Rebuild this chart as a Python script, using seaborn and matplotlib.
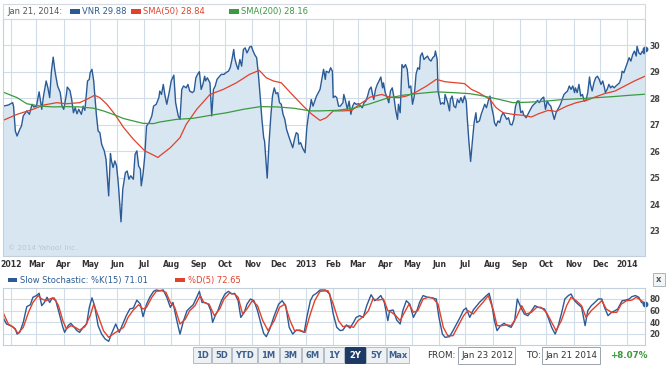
import matplotlib
matplotlib.use("Agg")
import matplotlib.pyplot as plt
from matplotlib.patches import Rectangle
import pandas as pd
import seaborn as sns

START = pd.Timestamp("2012-01-23")

# VNR daily close (days after Jan 23 2012)
vnr_days = [0, 6, 11, 12, 14, 16, 19, 21, 23, 27, 30, 33, 35, 38, 41, 44, 46, 49, 51, 53, 55, 57, 59, 62, 65, 67, 69,
            72, 73, 76, 78, 80, 82, 84, 86, 89, 91, 93, 96, 98, 99, 101, 103, 104, 106, 108, 110, 112, 115, 117, 120,
            122, 123, 125, 127, 129, 131, 134, 136, 139, 141, 143, 145, 148, 150, 152, 154, 156, 157, 159, 161, 163,
            166, 169, 171, 174, 177,
            178, 180, 182, 184, 186, 189, 191, 194, 196, 199, 201, 203, 205, 208, 210, 212, 215, 217, 219, 221, 223,
            225, 227, 229, 230, 232, 235, 237, 239, 241, 243, 246, 248, 251, 253, 256, 258, 260, 262, 263, 265, 267,
            269, 271, 273, 275, 277, 279, 280, 282, 284, 286, 288, 290, 292, 294, 296, 297, 300, 302, 304, 306, 308,
            310, 312, 314, 316, 318, 320, 322, 325, 327, 329, 331, 333, 335, 336, 338, 340, 343, 345, 347, 349, 350,
            352, 354, 356,
            360, 362, 364, 366, 367, 370, 372, 374, 375, 377, 379, 381, 383, 386, 387, 389, 391, 393, 395, 397, 399,
            401, 404, 406, 408, 410, 412, 414, 416, 418, 420, 421, 423, 425, 427, 429, 431, 432, 434, 437, 438, 440,
            442, 444, 446, 448, 449, 451, 453, 455, 457, 459, 461, 463, 465, 467, 469, 471, 473, 474, 476, 478, 480,
            482, 484, 486, 488, 490, 491, 493, 494, 497, 499, 501, 502, 505, 507, 508, 510, 512, 514, 516, 518, 520,
            522, 524, 526, 527, 529, 531, 533, 535, 537, 538,
            541, 543, 545, 547, 549, 551, 553, 555, 557, 558, 560, 562, 564, 566, 568, 570, 572, 574, 576, 578, 580,
            582, 584, 586, 588, 590, 591, 594, 596, 597, 599, 601, 603, 605, 607, 609, 611, 613, 614, 616, 618, 620,
            622, 624, 626, 628, 630, 632, 633, 635, 637, 639, 641, 643, 645, 647, 649, 650, 652, 654, 656, 658, 660,
            662, 664, 666, 667, 669, 671, 673, 675, 677, 679, 681, 683, 684, 686, 688, 690, 692, 694, 696, 698, 700,
            702, 703, 705, 707, 709, 711, 713, 715, 717, 719, 720, 722, 724, 726, 728, 729]
vnr_close = [27.71, 27.75, 27.84, 27.70, 26.77, 26.58, 26.83, 26.96, 27.34, 27.53, 27.40, 27.78, 27.68, 27.71, 28.25,
             27.59, 28.09, 28.66, 28.40, 28.03, 29.03, 29.56, 29.03, 28.47, 28.22, 27.71, 27.59, 28.15, 28.43, 28.30,
             27.96, 27.46, 27.65, 27.42, 27.59, 27.40, 27.71, 27.55, 28.66, 28.72, 28.97, 29.10, 28.66, 28.22, 27.40,
             26.77, 26.71, 26.27, 26.02, 25.70, 24.32, 25.92, 25.67, 25.39, 25.64, 25.45, 24.76, 23.34, 24.57, 25.20,
             25.26, 24.95, 25.08, 24.95, 25.89, 26.02, 25.45, 25.33, 24.70, 25.14, 25.83, 26.96, 27.09, 27.34, 27.71,
             27.78, 28.03,
             28.28, 28.15, 28.53, 28.09, 27.78, 28.28, 28.66, 28.88, 27.84, 27.34, 27.21, 28.34, 28.47, 28.40, 28.53,
             28.28, 28.22, 28.28, 28.78, 28.91, 29.01, 28.34, 28.53, 28.84, 28.66, 28.78, 28.59, 27.34, 28.34, 28.47,
             28.72, 28.84, 28.91, 28.91, 28.97, 29.03, 29.16, 29.47, 29.85, 29.54, 29.28, 29.10, 29.47, 29.22, 29.85,
             29.91, 29.72, 29.85, 29.94, 29.97, 29.79, 29.64, 29.54, 28.91, 28.09, 27.21, 26.52, 26.39, 24.99, 26.27,
             27.27, 28.09, 28.40, 28.18, 28.22, 27.84, 27.78, 27.40, 27.21, 26.83, 26.52, 26.33, 26.14, 26.46, 26.71,
             26.65, 26.27, 26.33, 26.14, 25.95, 26.90, 27.40, 27.71, 27.96, 27.71, 27.90, 28.09,
             28.34, 28.72, 29.10, 28.72, 29.03, 28.97, 29.16, 29.03, 28.03, 28.09, 28.03, 27.71, 27.71, 27.84, 28.15,
             27.90, 27.59, 27.90, 27.40, 27.71, 27.84, 27.78, 27.80, 27.71, 27.65, 27.84, 27.90, 28.09, 28.34, 28.43,
             28.09, 27.96, 28.34, 28.53, 28.66, 28.81, 28.40, 28.59, 28.22, 27.96, 27.84, 28.28, 28.40, 28.03, 27.53,
             27.21, 27.78, 27.46, 29.28, 29.16, 29.28, 29.10, 28.40, 28.47, 27.78, 28.09, 28.91, 29.16, 29.10, 29.60,
             29.72, 29.47, 29.54, 29.60, 29.47, 29.41, 29.54, 29.60, 29.79, 29.47, 28.28, 27.78, 27.84, 27.78, 28.15,
             27.84, 27.53, 27.96, 28.09, 27.71, 27.65, 27.96, 27.84, 28.03, 27.84, 28.09, 27.90, 27.34, 26.39, 25.62,
             26.39, 27.09, 27.46, 27.09,
             27.15, 27.40, 27.59, 27.78, 27.65, 27.90, 28.09, 27.65, 27.34, 27.09, 26.96, 27.15, 27.09, 27.34, 27.46,
             27.34, 27.21, 27.27, 27.02, 27.00, 27.21, 27.71, 27.90, 27.90, 27.46, 27.53, 27.40, 27.27, 27.40, 27.46,
             27.59, 27.71, 27.78, 27.84, 27.93, 27.84, 27.96, 28.03, 28.05, 27.59, 27.90, 27.78, 27.71, 27.46, 27.21,
             27.46, 27.59, 27.71, 27.78, 27.96, 28.15, 28.22, 28.28, 28.47, 28.34, 28.47, 28.22, 28.40, 28.22, 28.53,
             28.09, 28.15, 27.90, 27.93, 28.22, 28.81, 28.53, 28.28, 28.59, 28.78, 28.84, 28.72, 28.53, 28.66, 28.40,
             28.22, 28.34, 28.53, 28.40, 28.47, 28.40, 28.47, 28.53, 28.59, 28.78, 29.03, 28.97, 29.16, 29.35, 29.54,
             29.41, 29.66, 29.79, 29.60, 29.97, 29.72, 29.66, 29.79, 29.69, 29.88]

sma50_days = [0, 16, 34, 46, 61, 72, 87, 99, 104, 110, 118, 127, 137, 148, 161, 169, 176, 178, 190, 201, 208, 220,
              235, 250, 265, 280, 291, 299, 307, 316, 330, 341, 350, 360, 367, 375, 386, 396, 405, 417, 430, 439,
              449, 458, 468, 481, 492, 502, 515, 524, 532, 540, 553, 560, 568, 579, 591, 600, 608, 619, 628, 640,
              651, 663, 672, 683, 695, 706, 717, 729]
sma50 = [27.17, 27.40, 27.59, 27.75, 27.84, 27.80, 27.84, 28.03, 28.12, 28.03, 27.78, 27.40, 26.90, 26.46, 26.02,
         25.89, 25.77, 25.83, 26.14, 26.52, 27.02, 27.59, 28.15, 28.34, 28.59, 28.91, 29.06, 28.78, 28.66, 28.59,
         28.09, 27.71, 27.42, 27.17, 27.27, 27.53, 27.53, 27.55, 27.78, 28.05, 28.15, 28.05, 28.03, 28.09, 28.22,
         28.47, 28.72, 28.63, 28.59, 28.56, 28.34, 28.22, 27.96, 27.65, 27.46, 27.40, 27.36, 27.30, 27.42, 27.55,
         27.51, 27.71, 27.84, 27.93, 28.05, 28.18, 28.28, 28.47, 28.66, 28.84]

sma200_days = [0, 16, 27, 42, 57, 72, 87, 103, 114, 125, 137, 148, 159, 171, 178, 197, 216, 235, 254, 273, 292, 311,
               330, 349, 360, 379, 398, 417, 435, 454, 473, 492, 511, 530, 541, 560, 579, 598, 617, 636, 655, 674,
               693, 712, 729]
sma200 = [28.24, 28.03, 27.80, 27.71, 27.68, 27.69, 27.68, 27.63, 27.53, 27.40, 27.24, 27.15, 27.06, 27.05, 27.11,
          27.21, 27.25, 27.36, 27.46, 27.59, 27.69, 27.68, 27.63, 27.53, 27.53, 27.55, 27.63, 27.80, 28.00, 28.12,
          28.19, 28.25, 28.22, 28.18, 28.12, 27.99, 27.84, 27.86, 27.90, 27.96, 27.99, 28.03, 28.07, 28.12, 28.16]

# slow stochastic %K(15) and %D(5)
k_days = [0, 4, 10, 14, 16, 19, 23, 27, 31, 34, 38, 41, 44, 47, 50, 53, 56, 60, 64, 68, 70, 74, 77, 81, 84, 87, 91,
          95, 98, 101, 104, 108, 112, 116, 120, 123, 128, 132, 136, 140, 144, 148, 152, 156, 159, 163, 167, 171,
          174, 178, 182, 186, 190, 193, 197, 201, 205, 209, 212, 216, 220, 223, 226, 229, 233, 236, 238, 241, 244,
          248, 252, 256, 260, 263, 267, 270, 274, 277, 281, 285, 289, 293, 296, 299, 303, 308, 313, 317, 321, 325,
          329, 333, 337, 342, 345, 349, 352, 356, 360,
          366, 371, 375, 379, 383, 386, 390, 394, 398, 401, 405, 409, 413, 418, 422, 425, 429, 433, 437, 439, 443,
          447, 451, 454, 458, 462, 466, 470, 473, 477, 482, 487, 492, 495, 499, 502, 507, 511, 515, 519, 523, 526,
          530, 534, 538, 541, 545, 549, 552, 555, 558, 561, 565, 569, 573, 577, 581, 584, 588, 592, 596, 599, 604,
          608, 611, 615, 619, 623, 627, 630, 634, 638, 642, 645, 649, 653, 657, 661, 664, 668, 672, 676, 680, 683,
          687, 691, 695, 698, 703, 707, 711, 714, 718, 722, 725, 729]
k_vals = [48, 36.5, 32.5, 28, 19, 22, 39.4, 66.7, 70, 83, 86, 90, 68.4, 74, 83, 74, 82, 77, 54, 30.7, 22, 33.6, 37.7,
          30.7, 25, 22, 30.7, 36.5, 65.5, 82, 68.4, 33.6, 19, 10.4, 6.4, 19, 36.5, 22, 36.5, 51, 62.6, 64.3, 78, 71,
          49.3, 71, 84, 93.3, 95.7, 94.5, 95.7, 83, 65.5, 74, 45, 19, 42.3, 59.7, 64.3, 70, 83, 93.3, 74, 74, 71,
          59.7, 39.4, 51, 59.7, 77, 88.7, 93.3, 88.7, 89.9, 77, 48, 56.8, 71, 80, 77, 59.7, 36.5, 20.3, 14.5, 28, 51,
          71, 77, 68.4, 30.7, 19, 26, 25, 22, 48, 77, 86, 90, 95.7,
          95.7, 88.7, 53.9, 30.7, 25, 26, 35, 29.3, 39.4, 48, 51, 48, 68.4, 87.5, 77, 80, 86, 74, 42.3, 59.7, 60.9,
          43.5, 36.5, 59.7, 77, 71, 48, 59.7, 74, 86, 83, 82, 80, 48, 19, 13.3, 14.5, 25, 36.5, 48, 60.9, 64.3, 48,
          60.9, 68.4, 74, 80, 86, 90, 71, 42.3, 25, 33.6, 37.7, 33.6, 30.7, 42.3, 80, 65.5, 53.9, 51, 56.8, 68.4,
          65.5, 64.3, 62.6, 48, 30.7, 19, 30.7, 53.9, 80, 86, 88.7, 77, 71, 65.5, 33.6, 59.7, 68.4, 74, 80, 80, 65.5,
          51, 56.8, 59.7, 62.6, 77, 78, 80, 84, 86, 83, 74, 71.01]

d_days = [0, 6, 12, 17, 23, 29, 34, 40, 44, 49, 53, 58, 63, 68, 72, 77, 82, 87, 93, 99, 103, 108, 114, 120, 125, 131,
          137, 142, 148, 154, 159, 163, 169, 174, 180, 185, 190, 195, 201, 207, 212, 218, 224, 228, 234, 240, 246,
          251, 257, 263, 267, 272, 277, 283, 289, 295, 301, 308, 314, 320, 326, 331, 337, 343, 349, 354, 360,
          369, 375, 381, 386, 392, 398, 403, 409, 415, 420, 426, 432, 437, 441, 446, 451, 456, 461, 466, 471, 477,
          483, 488, 494, 500, 505, 511, 517, 523, 528, 534, 540, 545, 551, 557, 561, 566, 572, 577, 583, 589, 594,
          600, 606, 611, 617, 623, 628, 634, 640, 645, 651, 657, 662, 668, 674, 680, 685, 691, 697, 702, 708, 714,
          719, 725, 729]
d_vals = [57, 36.5, 30.7, 20.3, 30.7, 57, 74, 86, 80, 77, 80, 82, 68.4, 42.3, 28, 33.6, 30.7, 26, 31.9, 51, 71, 51,
          25, 13.3, 19, 25, 30.7, 48, 60.9, 70, 62.6, 65.5, 83, 93.3, 94.5, 91.6, 74, 65.5, 36.5, 45, 59.7, 68.4, 86,
          74, 71, 51, 62.6, 80, 90, 88.7, 83, 54, 62.6, 77, 68.4, 42.3, 25, 42.3, 65.5, 71, 42.3, 25, 26, 22, 54, 77,
          93.3,
          94.5, 71, 42.3, 31.9, 33.6, 30.7, 42.3, 49.3, 59.7, 80, 78, 80, 59.7, 57, 51, 42.3, 57, 71, 57, 59.7, 80,
          83, 82, 71, 30.7, 16.2, 16.2, 33.6, 51, 59.7, 53.9, 65.5, 74, 86, 59.7, 33.6, 33.6, 35, 33.6, 48, 68.4,
          53.9, 56.8, 65.5, 65.5, 56.8, 39.4, 25, 42.3, 68.4, 83, 77, 68.4, 48, 59.7, 68.4, 77, 62.6, 56.8, 56.8, 71,
          77, 78, 83, 77, 72.65]

month_ticks = pd.date_range("2012-02-01", "2014-01-01", freq="MS")
month_labels = ["2012", "Mar", "Apr", "May", "Jun", "Jul", "Aug", "Sep", "Oct", "Nov", "Dec",
                "2013", "Feb", "Mar", "Apr", "May", "Jun", "Jul", "Aug", "Sep", "Oct", "Nov", "Dec", "2014"]
price_ticks = [23, 24, 25, 26, 27, 28, 29, 30]
stoch_ticks = [20, 40, 60, 80]
range_buttons = ["1D", "5D", "YTD", "1M", "3M", "6M", "1Y", "2Y", "5Y", "Max"]

BLUE = "#2b5b97"
RED = "#e2412b"
GREEN = "#3b9a3f"
FILL = "#d7e6f1"
GRID = "#d0dde8"
EDGE = "#c3d0dc"

sns.set_style("white")
plt.rcParams["font.family"] = ["DejaVu Sans"]

W, H = 670, 366


def fx(x):
    return x / W


def fy(y):
    return 1 - y / H


def box(x0, y0, x1, y1):
    return [fx(x0), fy(y1), (x1 - x0) / W, (y1 - y0) / H]


def rect(x0, y0, x1, y1, **kw):
    fig.add_artist(Rectangle((fx(x0), fy(y1)), (x1 - x0) / W, (y1 - y0) / H,
                             transform=fig.transFigure, **kw))


fig = plt.figure(figsize=(6.7, 3.66), dpi=100)

to_dates = lambda d: START + pd.to_timedelta(d, unit="D")
vnr_dates = to_dates(vnr_days)
end_date = to_dates([729])[0]

# ---- price panel
ax = fig.add_axes(box(3, 19, 645, 256))
ax.fill_between(vnr_dates, vnr_close, 22.0, color=FILL, lw=0)
sns.lineplot(x=vnr_dates, y=vnr_close, ax=ax, color=BLUE, lw=1.0, estimator=None)
sns.lineplot(x=to_dates(sma50_days), y=sma50, ax=ax, color=RED, lw=0.9, estimator=None)
sns.lineplot(x=to_dates(sma200_days), y=sma200, ax=ax, color=GREEN, lw=0.9, estimator=None)
ax.plot(vnr_dates[-1], vnr_close[-1], "o", color=BLUE, ms=3.2, clip_on=False)
ax.set_xlim(START, end_date)
ax.set_ylim(22.05, 31.0)
ax.set_yticks(price_ticks)
ax.yaxis.tick_right()
ax.set_xticks(month_ticks)
ax.set_xticklabels(month_labels)
ax.tick_params(axis="x", length=0, pad=3, labelsize=5.6, labelcolor="#333333")
ax.tick_params(axis="y", length=0, pad=3, labelsize=5.6, labelcolor="#444444")
for lab in ax.get_xticklabels() + ax.get_yticklabels():
    lab.set_fontweight("bold")
ax.grid(True, color=GRID, lw=0.8)
ax.set_axisbelow(True)
ax.set_xlabel("")
ax.set_ylabel("")
for s in ax.spines.values():
    s.set_color(EDGE)
    s.set_linewidth(0.8)
ax.text(0.008, 0.02, "\u00a9 2014 Yahoo! Inc.", transform=ax.transAxes, fontsize=5.2,
        color="#b9c7d3", va="bottom")

# header line
rect(3, 4, 645, 19, fill=False, ec="#d3dae1", lw=0.8)
fig.text(fx(7), fy(11.5), "Jan 21, 2014:", fontsize=6, color="#555555", va="center")
for x0, label, col in [(70, "VNR 29.88", BLUE), (131, "SMA(50) 28.84", RED), (229, "SMA(200) 28.16", GREEN)]:
    rect(x0, 9.5, x0 + 10, 13.5, color=col, lw=0)
    fig.text(fx(x0 + 12), fy(11.5), label, fontsize=6, color=col, va="center")

# ---- stochastic panel
ax2 = fig.add_axes(box(3, 287.5, 645, 345))
sns.lineplot(x=to_dates(k_days), y=k_vals, ax=ax2, color=BLUE, lw=1.0, estimator=None)
sns.lineplot(x=to_dates(d_days), y=d_vals, ax=ax2, color=RED, lw=1.0, estimator=None)
ax2.plot(end_date, k_vals[-1], "o", color=BLUE, ms=3.2, clip_on=False)
ax2.set_xlim(START, end_date)
ax2.set_ylim(0, 100)
ax2.set_yticks(stoch_ticks)
ax2.yaxis.tick_right()
ax2.set_xticks(month_ticks)
ax2.set_xticklabels([])
ax2.tick_params(axis="both", length=0, pad=3, labelsize=5.6, labelcolor="#444444")
for lab in ax2.get_yticklabels():
    lab.set_fontweight("bold")
ax2.grid(True, color=GRID, lw=0.8)
ax2.set_xlabel("")
ax2.set_ylabel("")
for s in ax2.spines.values():
    s.set_color(EDGE)
    s.set_linewidth(0.8)

rect(8, 278, 17, 282, color=BLUE, lw=0)
fig.text(fx(20), fy(280), "Slow Stochastic: %K(15) 71.01", fontsize=6, color=BLUE, va="center")
rect(175, 278, 185, 282, color=RED, lw=0)
fig.text(fx(188), fy(280), "%D(5) 72.65", fontsize=6, color=RED, va="center")

# close box
rect(653, 273, 665, 286, fc="#f2f4f6", ec="#a9b3bd", lw=0.7)
fig.text(fx(659), fy(279.5), "x", fontsize=6, color="#555555", ha="center", va="center", fontweight="bold")

# ---- range buttons
btn_x = [193, 212, 232, 258, 280, 302, 324, 345, 366, 387, 410]
for i, lab in enumerate(range_buttons):
    sel = lab == "2Y"
    rect(btn_x[i], 347, btn_x[i + 1] - 1, 363, fc="#1d3a66" if sel else "#eef1f4",
         ec="#1d3a66" if sel else "#b3bcc6", lw=0.7)
    fig.text(fx((btn_x[i] + btn_x[i + 1] - 1) / 2), fy(355.5), lab, fontsize=6, fontweight="bold",
             color="white" if sel else "#3c5f8e", ha="center", va="center")

fig.text(fx(427), fy(355.5), "FROM:", fontsize=6.3, color="#333333", va="center")
rect(458, 347, 515, 364, fc="white", ec="#9aa4ae", lw=0.7)
fig.text(fx(461), fy(355.5), "Jan 23 2012", fontsize=6.3, color="#333333", va="center")
fig.text(fx(526), fy(355.5), "TO:", fontsize=6.3, color="#333333", va="center")
rect(542, 347, 600, 364, fc="white", ec="#9aa4ae", lw=0.7)
fig.text(fx(545), fy(355.5), "Jan 21 2014", fontsize=6.3, color="#333333", va="center")
fig.text(fx(610), fy(355.5), "+8.07%", fontsize=6.3, color="#3a9a3a", va="center", fontweight="bold")

fig.savefig("out.png", dpi=100)
